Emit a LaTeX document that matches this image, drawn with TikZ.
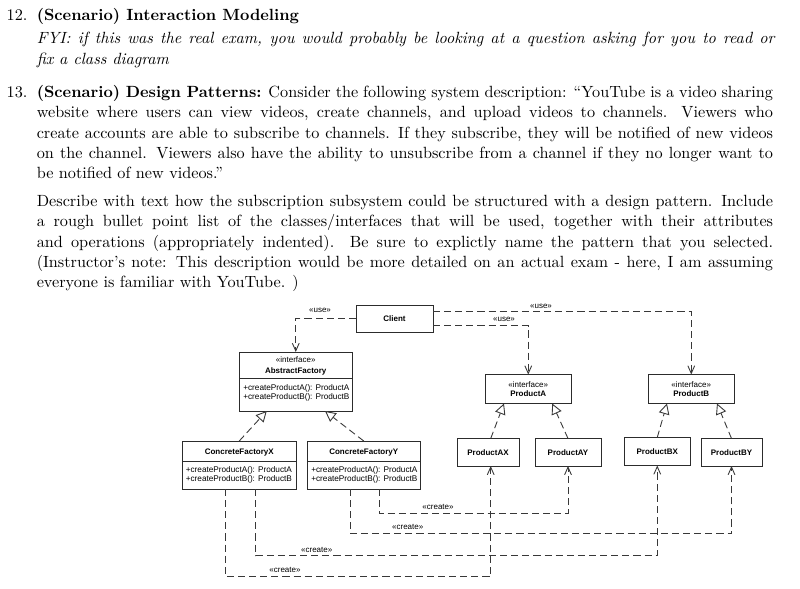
\documentclass[tikz,border=0pt]{standalone}
\usepackage{fontspec}
\newfontfamily\dia{Liberation Sans}
\usetikzlibrary{arrows.meta,calc}
\definecolor{boxc}{HTML}{2c2c2c}
\definecolor{linec}{HTML}{383838}
\newcommand\jline[1]{\hbox to 497pt{#1}}
\begin{document}
\begin{tikzpicture}[x=0.675pt,y=-0.675pt,
  ubox/.style 2 args={draw=boxc, line width=0.62pt, minimum width=#1*0.675pt, minimum height=#2*0.675pt, inner sep=0pt, outer sep=0pt, font=\dia\bfseries\fontsize{5.4}{6.5}\selectfont, align=center},
  divl/.style={draw=boxc, line width=0.62pt},
  dep/.style={draw=linec, line width=0.6pt, dash pattern=on 4.8pt off 2.7pt, -{Straight Barb[length=5.2pt,width=4.6pt]}},
  gen/.style={draw=linec, line width=0.6pt, dash pattern=on 4.8pt off 2.7pt, -{Triangle[length=7.2pt,width=7.2pt,fill=white]}},
  lbl/.style={font=\dia\fontsize{5.4}{6.5}\selectfont, inner sep=0pt, anchor=base},
  nm/.style={font=\dia\bfseries\fontsize{5.4}{6.5}\selectfont, inner sep=0pt, anchor=base},
  op/.style={font=\dia\fontsize{5.55}{6.5}\selectfont, inner sep=0pt, anchor=base west},
  txt/.style={font=\fontsize{10.95}{13.6}\selectfont, inner sep=0pt, anchor=base west},
  num/.style={font=\fontsize{10.95}{13.6}\selectfont, inner sep=0pt, anchor=base east},
]
\useasboundingbox (0,0) rectangle (800,588);

% ---------- text ----------
\node[num] (n12) at (27.7,20.5) {12.};
\node[txt] (t1) at (36.5,20.5) {\bfseries (Scenario) Interaction Modeling};
\node[txt] (t2) at (36.5,43.4) {\hbox to 498pt{\itshape FYI: if this was the real exam, you would probably be looking at a question asking for you to read or}};
\node[txt] (t3) at (36.5,64) {\itshape fix a class diagram};

\node[num] (n13) at (27.7,97) {13.};
\node[txt] (t4) at (36.5,97) {\jline{\textbf{(Scenario) Design Patterns:} Consider the following system description: “YouTube is a video sharing}};
\node[txt] (t5) at (36.5,117.5) {\jline{website where users can view videos, create channels, and upload videos to channels. Viewers who}};
\node[txt] (t6) at (36.5,138) {\jline{create accounts are able to subscribe to channels. If they subscribe, they will be notified of new videos}};
\node[txt] (t7) at (36.5,158.4) {\jline{on the channel. Viewers also have the ability to unsubscribe from a channel if they no longer want to}};
\node[txt] (t8) at (36.5,178.8) {be notified of new videos.”};

\node[txt] (t9) at (36.5,206.3) {\jline{Describe with text how the subscription subsystem could be structured with a design pattern. Include}};
\node[txt] (t10) at (36.5,226.6) {\jline{a rough bullet point list of the classes/interfaces that will be used, together with their attributes}};
\node[txt] (t11) at (36.5,247) {\jline{and operations (appropriately indented). Be sure to explictly name the pattern that you selected.}};
\node[txt] (t12) at (36.5,267.3) {\jline{(Instructor’s note: This description would be more detailed on an actual exam - here, I am assuming}};
\node[txt] (t13) at (36.5,287.6) {everyone is familiar with YouTube. )};

% ---------- boxes ----------
\node[ubox={77}{27}] (client) at (394.5,318.5) {Client};

\node[ubox={112.5}{59}] (af) at (295.75,381.5) {};
\draw[divl] ($(af.north west)+(0,26.5)$) -- ($(af.north east)+(0,26.5)$);
\node[lbl] (afs) at (295.75,362) {«interface»};
\node[nm] (afn) at (295.75,373) {AbstractFactory};
\node[op] (afo1) at (243,390) {+createProductA(): ProductA};
\node[op] (afo2) at (243,399.2) {+createProductB(): ProductB};

\node[ubox={113.5}{48}] (cfx) at (239.25,465) {};
\draw[divl] ($(cfx.north west)+(0,20)$) -- ($(cfx.north east)+(0,20)$);
\node[nm] (cfxn) at (239.25,454) {ConcreteFactoryX};
\node[op] (cfxo1) at (185.5,472.5) {+createProductA(): ProductA};
\node[op] (cfxo2) at (185.5,481.8) {+createProductB(): ProductB};

\node[ubox={112.5}{48}] (cfy) at (363.75,465) {};
\draw[divl] ($(cfy.north west)+(0,20)$) -- ($(cfy.north east)+(0,20)$);
\node[nm] (cfyn) at (363.75,454) {ConcreteFactoryY};
\node[op] (cfyo1) at (311,472.5) {+createProductA(): ProductA};
\node[op] (cfyo2) at (311,481.8) {+createProductB(): ProductB};

\node[ubox={86.5}{29}] (pa) at (528.25,389) {{\mdseries «interface»}\\ProductA};
\node[ubox={86.5}{29}] (pb) at (691.25,389) {{\mdseries «interface»}\\ProductB};

\node[ubox={62}{27.5}] (pax) at (488,452.25) {ProductAX};
\node[ubox={66}{27.5}] (pay) at (568,452.25) {ProductAY};
\node[ubox={66.5}{28}] (pbx) at (657.25,451.5) {ProductBX};
\node[ubox={61}{27.5}] (pby) at (731.5,452.25) {ProductBY};

% ---------- use dependencies ----------
\draw[dep] (client.west) -| (af.north);
\draw[dep] ($(client.east)+(0,7.2)$) -| (pa.north);
\draw[dep] ($(client.east)+(0,-6.8)$) -| (pb.north);
\node[lbl] (u1) at (320,312.5) {«use»};
\node[lbl] (u2) at (541,308.5) {«use»};
\node[lbl] (u3) at (504,321.5) {«use»};

% ---------- generalisations ----------
\draw[gen] (cfx.north) -- ($(af.south)+(-29,0)$);
\draw[gen] (cfy.north) -- ($(af.south)+(29.25,0)$);
\draw[gen] ($(pax.north)+(2.7,0)$) -- ($(pa.south)+(-24.25,0)$);
\draw[gen] (pay.north) -- ($(pa.south)+(24,0)$);
\draw[gen] (pbx.north) -- ($(pb.south)+(-24.25,0)$);
\draw[gen] (pby.north) -- ($(pb.south)+(25.75,0)$);

% ---------- create dependencies ----------
\draw[dep] ($(cfy.south)+(15.3,0)$) -- ++(0,24.7) -| (pay.south);
\draw[dep] ($(cfy.south)+(-13.75,0)$) -- ++(0,44.7) -| (pby.south);
\draw[dep] ($(cfx.south)+(16.45,0)$) -- ++(0,66.7) -| (pbx.south);
\draw[dep] ($(cfx.south)+(-13.55,0)$) -- ++(0,87.7) -| ($(pax.south)+(2.7,0)$);
\node[lbl] (c1) at (438,509) {«create»};
\node[lbl] (c2) at (407.7,529) {«create»};
\node[lbl] (c3) at (316.7,552.3) {«create»};
\node[lbl] (c4) at (285,572.3) {«create»};
\end{tikzpicture}
\end{document}
